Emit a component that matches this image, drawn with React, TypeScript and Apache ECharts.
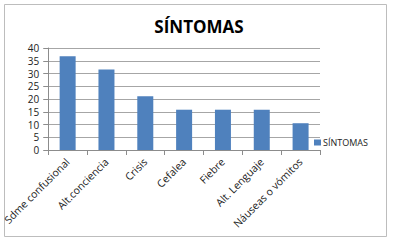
import React, { useEffect, useRef } from "react";
import * as echarts from "echarts";

const title = "SÍNTOMAS";
const seriesName = "SÍNTOMAS";
const categories = [
  "Sdme confusional",
  "Alt.conciencia",
  "Crisis",
  "Cefalea",
  "Fiebre",
  "Alt. Lenguaje",
  "Náuseas o vómitos",
];
const values = [36.8, 31.6, 21.1, 15.8, 15.8, 15.8, 10.5];
const yMin = 0;
const yMax = 40;
const yInterval = 5;

const FONT = "'Open Sans', 'Liberation Sans', sans-serif";

export default function App() {
  const ref = useRef<HTMLDivElement>(null);
  useEffect(() => {
    if (!ref.current) return;
    const chart = echarts.init(ref.current, undefined, { renderer: "svg" });
    chart.setOption({
      animation: false,
      backgroundColor: "#ffffff",
      title: {
        text: title,
        left: 194,
        textAlign: "center",
        top: 13,
        textStyle: { fontFamily: FONT, fontSize: 17, fontWeight: "bold", color: "#000" },
      },
      legend: {
        data: [seriesName],
        left: 309,
        top: 133,
        icon: "rect",
        itemWidth: 7,
        itemHeight: 6,
        textStyle: { fontFamily: FONT, fontSize: 9, color: "#222", padding: [0, 0, 0, -3] },
      },
      grid: { left: 48, right: 82, top: 48, bottom: 97, containLabel: false },
      xAxis: {
        type: "category",
        data: categories,
        axisLine: { lineStyle: { color: "#8c8c8c" } },
        axisTick: { show: true, length: 5, alignWithLabel: false, lineStyle: { color: "#8c8c8c" } },
        axisLabel: {
          rotate: 45,
          interval: 0,
          margin: 10,
          fontFamily: FONT,
          fontSize: 10.5,
          color: "#222",
        },
      },
      yAxis: {
        type: "value",
        min: yMin,
        max: yMax,
        interval: yInterval,
        axisLine: { show: true, lineStyle: { color: "#8c8c8c" } },
        axisTick: { show: true, length: 5, lineStyle: { color: "#8c8c8c" } },
        splitLine: { lineStyle: { color: "#a6a6a6" } },
        axisLabel: { fontFamily: FONT, fontSize: 10, color: "#222", margin: 9 },
      },
      series: [
        {
          name: seriesName,
          type: "bar",
          data: values,
          barWidth: 16,
          itemStyle: { color: "#4f81bd" },
        },
      ],
      graphic: [
        {
          type: "rect",
          shape: { x: 4.5, y: 4.5, width: 382, height: 232 },
          style: { fill: "none", stroke: "#bdbdbd", lineWidth: 1 },
          silent: true,
          z: -1,
        },
      ],
    });
    return () => chart.dispose();
  }, []);
  return (
    <div
      ref={ref}
      style={{ position: "fixed", left: 0, top: 0, width: 402, height: 247 }}
    />
  );
}
